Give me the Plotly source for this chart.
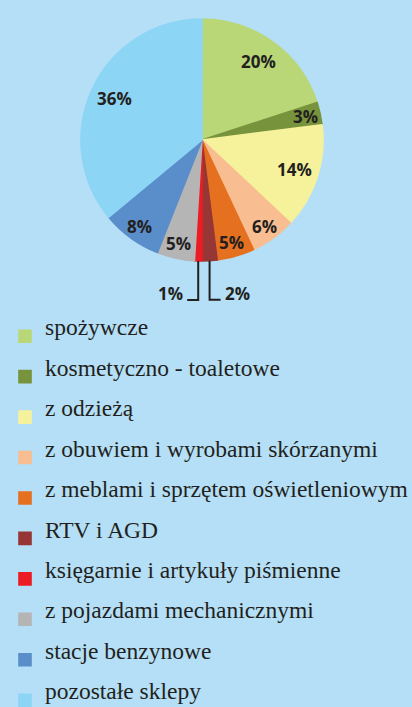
import math
import plotly.graph_objects as go

categories = [
    "spożywcze",
    "kosmetyczno - toaletowe",
    "z odzieżą",
    "z obuwiem i wyrobami skórzanymi",
    "z meblami i sprzętem oświetleniowym",
    "RTV i AGD",
    "księgarnie i artykuły piśmienne",
    "z pojazdami mechanicznymi",
    "stacje benzynowe",
    "pozostałe sklepy",
]
shares = [20, 3, 14, 6, 5, 2, 1, 5, 8, 36]
colors = ["#bad778", "#77933c", "#f6f29c", "#f8bd90", "#e5701f", "#963735",
          "#ec1c24", "#b5b5b5", "#5a8ecb", "#8dd5f5"]

W, H = 412, 707
CX, CY, R = 202, 140, 121
BG = "#b4dff6"
INK = "#231f20"

legend_labels = [
    f"<sup><span style='font-size:23.5px'>{c}</span></sup>" for c in categories
]

fig = go.Figure(go.Pie(
    labels=legend_labels,
    values=shares,
    sort=False,
    direction="clockwise",
    rotation=0,
    marker=dict(colors=colors, line=dict(color=colors, width=1.6)),
    textinfo="none",
    hoverinfo="skip",
    domain=dict(x=[(CX - R) / W, (CX + R) / W],
                y=[1 - (CY + R) / H, 1 - (CY - R) / H]),
))

# percentage labels positioned from the data angles
total = sum(shares)
cum = 0
annotations = []
shapes = []
for v in shares:
    mid = 2 * math.pi * (cum + v / 2) / total
    cum += v
    sx, sy = math.sin(mid), -math.cos(mid)
    if v <= 2:
        ex, ey = CX + R * sx, CY + R * sy
        drop, run = 39, 11
        side = 1 if sx > 0 else -1
        x2, y2 = ex, ey + drop
        x3 = ex + side * run
        path = "M {:.4f},{:.4f} L {:.4f},{:.4f} L {:.4f},{:.4f}".format(
            ex / W, 1 - ey / H, x2 / W, 1 - y2 / H, x3 / W, 1 - y2 / H)
        shapes.append(dict(type="path", path=path, xref="paper", yref="paper",
                           line=dict(color=INK, width=2)))
        annotations.append(dict(
            x=(x3 + side * 2) / W, y=1 - (y2 - 6) / H, xref="paper", yref="paper",
            text=f"<b>{v}%</b>", showarrow=False,
            xanchor="left" if side > 0 else "right", yanchor="middle",
            font=dict(family="Open Sans", size=17, color=INK)))
        continue
    f = 0.8 if v >= 10 else 0.88
    px, py = CX + f * R * sx, CY + f * R * sy
    annotations.append(dict(
        x=px / W, y=1 - py / H, xref="paper", yref="paper",
        text=f"<b>{v}%</b>", showarrow=False, xanchor="center", yanchor="middle",
        font=dict(family="Open Sans", size=17, color=INK)))

fig.update_layout(
    width=W, height=H,
    margin=dict(l=0, r=0, t=0, b=0, pad=0, autoexpand=False),
    paper_bgcolor=BG, plot_bgcolor=BG,
    showlegend=True,
    legend=dict(
        x=5 / W, y=1 - 311 / H, xanchor="left", yanchor="top",
        font=dict(family="Liberation Serif", size=28.8, color=INK),
        bgcolor="rgba(0,0,0,0)", traceorder="normal",
        itemclick=False, itemdoubleclick=False,
    ),
    annotations=annotations,
    shapes=shapes,
)

fig.write_html(
    "out.html",
    config={"displayModeBar": False},
    post_script="document.body.style.margin='0';document.body.style.overflow='hidden';",
)
